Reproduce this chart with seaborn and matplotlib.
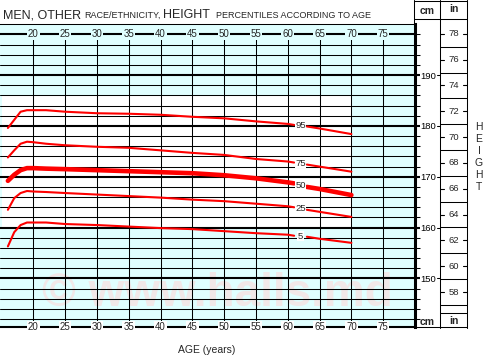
import numpy as np
import pandas as pd
import matplotlib
matplotlib.use("Agg")
import matplotlib.pyplot as plt
import matplotlib.transforms as mtransforms
from matplotlib.patches import Rectangle
from matplotlib.lines import Line2D
import seaborn as sns

# ---------------- data ----------------
ages = [16, 17, 18, 19, 20, 22, 25, 30, 35, 40, 45, 50, 55, 60, 61, 63, 65, 70]
p95 = [179.6, 181.2, 182.8, 183.1, 183.1, 183.1, 182.8, 182.5, 182.4, 182.2, 181.8, 181.5, 180.9, 180.4, 180.2, 179.9, 179.5, 178.4]
p75 = [173.8, 175.2, 176.5, 176.9, 176.8, 176.5, 176.2, 175.9, 175.7, 175.2, 174.7, 174.3, 173.5, 173.0, 172.8, 172.4, 172.0, 171.0]
p50 = [169.2, 170.4, 171.3, 171.7, 171.7, 171.6, 171.5, 171.3, 171.1, 170.9, 170.7, 170.3, 169.7, 168.9, 168.7, 168.0, 167.6, 166.4]
p25 = [163.5, 165.8, 166.8, 167.2, 167.1, 167.0, 166.8, 166.5, 166.2, 165.9, 165.5, 165.2, 164.7, 164.2, 164.0, 163.5, 163.1, 162.1]
p5 = [156.3, 159.1, 160.5, 161.0, 161.0, 161.0, 160.7, 160.5, 160.2, 159.9, 159.7, 159.3, 158.9, 158.6, 158.4, 158.2, 157.8, 157.0]
series = {"95": p95, "75": p75, "50": p50, "25": p25, "5": p5}
label_age = 62

age_ticks = [20, 25, 30, 35, 40, 45, 50, 55, 60, 65, 70, 75]
cm_major = [150, 160, 170, 180, 190]
cm_minor = list(range(142, 199, 2))
inch_labels = [58, 60, 62, 64, 66, 68, 70, 72, 74, 76, 78]
inch_lines = [57, 59, 61, 63, 65, 67, 69, 71, 73, 75, 77]

title_parts = [("MEN, OTHER", 9.0, 3), ("RACE/ETHNICITY,", 6.5, 3),
               ("HEIGHT", 9.0, 6), ("PERCENTILES ACCORDING TO AGE", 6.5, 0)]

# ---------------- style ----------------
sns.set_theme(style="white")
plt.rcParams["font.family"] = ["Liberation Sans", "DejaVu Sans"]
CYAN = "#e0ffff"
RED = "#ff0000"

W, H = 487, 357
fig = plt.figure(figsize=(W / 100, H / 100), dpi=100)
fig.patch.set_facecolor("white")
PXT = mtransforms.Affine2D().scale(1 / W, 1 / H) + fig.transFigure


def px(x0, y0, w, h):
    return [x0 / W, 1 - (y0 + h) / H, w / W, h / H]


XLIM = (14.76, 80.0)
YLIM = (140.5, 200.0)
ax = fig.add_axes(px(0, 24.3, 415, 302.4))
ax.set_xlim(*XLIM)
ax.set_ylim(*YLIM)
ax.set_facecolor(CYAN)

# white band
ax.add_patch(Rectangle((15.0, 160), 55, 26, fc="white", ec="none", zorder=0.2))

# watermark
ax.text(49, 146.9, "\u00a9 www.halls.md", fontsize=33, fontweight="bold",
        color="#f1e8e8", ha="center", va="center", zorder=0.5)

# horizontal grid
for v in cm_minor:
    lw = 1.5 if (v % 10 == 0 or v == 198) else 0.75
    ax.axhline(v, color="black", lw=lw, zorder=1)
# vertical grid
for a in age_ticks:
    ax.plot([a, a], [YLIM[0], 198], color="black", lw=0.75, zorder=1)

# spines
ax.spines["left"].set_visible(False)
ax.spines["top"].set_linewidth(0.75)
ax.spines["top"].set_color("black")
ax.spines["right"].set_linewidth(2.2)
ax.spines["right"].set_color("black")
ax.spines["bottom"].set_linewidth(1.5)
ax.spines["bottom"].set_color("black")

# y ticks on right
ax.yaxis.tick_right()
ax.set_yticks(cm_major)
ax.set_yticklabels([str(v) for v in cm_major])
ax.set_yticks(cm_minor, minor=True)
ax.tick_params(axis="y", which="both", direction="out", length=3.6, width=0.75,
               color="black", labelsize=6.8, pad=0.5, labelcolor="black")
ax.tick_params(axis="y", which="major", width=1.5)
ax.set_xticks([])

# age labels top and bottom
for a in age_ticks:
    ax.text(a, 198, str(a), fontsize=7, ha="center", va="center", zorder=5,
            bbox=dict(fc=CYAN, ec="none", pad=0.6))
    ax.text(a, YLIM[0], str(a), fontsize=7, ha="center", va="center", zorder=5,
            clip_on=False, bbox=dict(fc="white", ec="none", pad=0.6))

# curves
for name, vals in series.items():
    df = pd.DataFrame({"age": ages, "cm": vals})
    lw = 3.3 if name == "50" else 1.5
    for part in (df[df.age < label_age], df[df.age > label_age]):
        sns.lineplot(data=part, x="age", y="cm", ax=ax, color=RED, lw=lw,
                     estimator=None, sort=False, zorder=3)
    i61 = ages.index(61)
    ly = (vals[i61] + vals[i61 + 1]) / 2
    ax.text(label_age, ly, name, fontsize=6.8, ha="center", va="center", zorder=4,
            bbox=dict(fc="white", ec="none", pad=0.3))
ax.set_xlabel("")
ax.set_ylabel("")
ax.set_xlim(*XLIM)
ax.set_ylim(*YLIM)

# ---------------- inch column ----------------
ax2 = fig.add_axes(px(440, 24.3, 27, 302.4))
ax2.set_ylim(YLIM[0] / 2.54, YLIM[1] / 2.54)
ax2.set_xlim(0, 1)
ax2.set_facecolor("none")
for s in ax2.spines.values():
    s.set_visible(False)
ax2.set_xticks([])
ax2.set_yticks([])
for v in inch_lines:
    ax2.plot([0, 1], [v, v], color="black", lw=0.75)
for v in inch_labels:
    ax2.plot([0, 0.14], [v, v], color="black", lw=0.8)
    ax2.plot([0.86, 1], [v, v], color="black", lw=0.8)
    ax2.text(0.5, v, str(v), fontsize=6.8, ha="center", va="center")

# cm major ticks on left of inch column line
trans = mtransforms.blended_transform_factory(fig.transFigure, ax.transData)
for v in cm_major:
    fig.add_artist(Line2D([437 / W, 440 / W], [v, v], transform=trans, color="black", lw=0.75))


def fline(x0, y0, x1, y1, lw=0.75):
    fig.add_artist(Line2D([x0 / W, x1 / W], [1 - y0 / H, 1 - y1 / H],
                          color="black", lw=lw, transform=fig.transFigure))


fline(440, 0, 440, 327.5)
fline(467, 0, 467, 327.5)
fline(414, 0, 414, 24.3)
fline(414, 0.5, 467, 0.5)
fline(414, 19.3, 467, 19.3)
fline(440, 313, 467, 313)
fline(415, 327.3, 467, 327.3)

fig.text(427, H - 10.5, "cm", fontsize=7.5, fontweight="bold", ha="center", va="center", transform=PXT)
fig.text(453.5, H - 9.5, "in", fontsize=7.5, fontweight="bold", ha="center", va="center", transform=PXT)
fig.text(427, H - 322, "cm", fontsize=7.5, fontweight="bold", ha="center", va="center", transform=PXT)
fig.text(453.5, H - 320.5, "in", fontsize=7.5, fontweight="bold", ha="center", va="center", transform=PXT)

# vertical HEIGHT
for i, ch in enumerate("HEIGHT"):
    fig.text(479, H - (127 + 12 * i), ch, fontsize=7.5, ha="center", va="center", transform=PXT)

# title, pieces placed one after another
renderer = fig.canvas.get_renderer()
x = 3.0
for txt, fs, gap in title_parts:
    t = fig.text(x, H - 18, txt, fontsize=fs, ha="left", va="baseline", transform=PXT)
    bb = t.get_window_extent(renderer)
    x = bb.x1 + gap

# x label
fig.text(207, H - 350, "AGE (years)", fontsize=7.5, ha="center", va="center", transform=PXT)

fig.savefig("out.png", dpi=100)
